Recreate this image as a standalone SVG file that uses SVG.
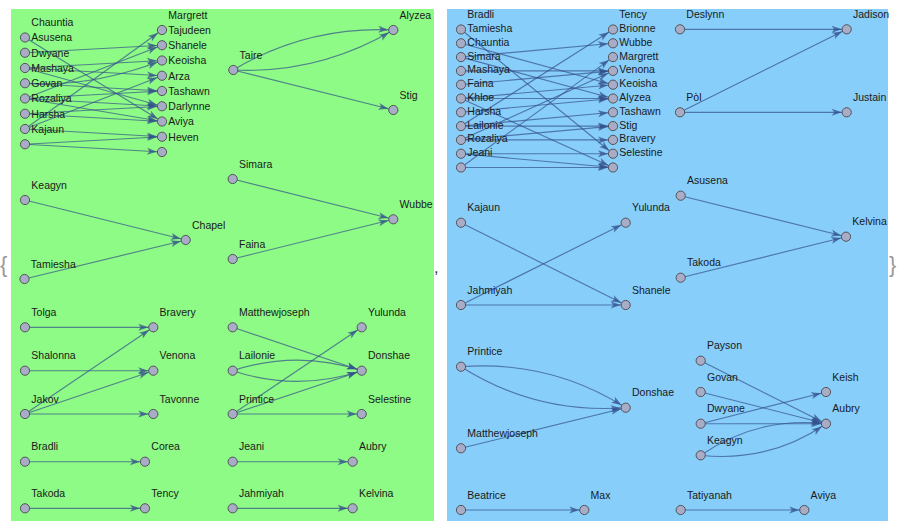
<svg xmlns="http://www.w3.org/2000/svg" width="900" height="531" viewBox="0 0 900 531">
<style>
.bg{stroke:none}
.e{fill:none;stroke:#34508C;stroke-opacity:0.7;stroke-width:1.15;marker-end:url(#ah)}
.n circle{fill:#A9ACC6;stroke:#4a4a4a;stroke-width:0.9}
.n text{font-family:"Liberation Sans",Arial,sans-serif;font-size:10.5px;fill:#1a1a1a}
.br{font-family:"Liberation Sans",Arial,sans-serif;font-size:22px;fill:#9a9a9a}
</style>
<defs>
<marker id="ah" markerUnits="userSpaceOnUse" markerWidth="16" markerHeight="8" refX="15" refY="3.5" orient="auto" overflow="visible">
<path d="M0,0 L10,3.5 L0,7 L2.5,3.5 Z" fill="#34508C" fill-opacity="0.75"/>
</marker>
</defs>
<rect class="bg" x="0" y="0" width="900" height="531" fill="#ffffff"/>
<rect class="bg" x="11" y="9" width="423" height="512" fill="#8DFB85"/>
<rect class="bg" x="447" y="9" width="441" height="512" fill="#87CEFA"/>
<text class="br" x="0" y="272">{</text>
<text class="br" x="889" y="272">}</text>
<text x="434" y="273" style="font-family:'Liberation Sans',Arial,sans-serif;font-size:16px;fill:#333">,</text>

<g id="connectors">
<!-- green top-left cluster -->
<path class="e" d="M25,37.5 L162,121.5"/>
<path class="e" d="M25,52.75 L162,45.25"/>
<path class="e" d="M25,68 L162,60.5"/>
<path class="e" d="M25,68 L162,75.75"/>
<path class="e" d="M25,68 L162,106.25"/>
<path class="e" d="M25,83.25 Q90,88 162,60.5"/>
<path class="e" d="M25,83.25 L162,91"/>
<path class="e" d="M25,98.5 L162,45.25"/>
<path class="e" d="M25,98.5 L162,91"/>
<path class="e" d="M25,98.5 L162,106.25"/>
<path class="e" d="M25,98.5 L162,121.5"/>
<path class="e" d="M25,113.75 L162,106.25"/>
<path class="e" d="M25,113.75 L162,121.5"/>
<path class="e" d="M25,129 L162,30"/>
<path class="e" d="M25,129 L162,75.75"/>
<path class="e" d="M25,129 L162,136.75"/>
<path class="e" d="M25,144.25 L162,136.75"/>
<path class="e" d="M25,144.25 L162,152"/>
<!-- Taire -->
<path class="e" d="M233.3,70 Q307,26 393.3,30"/>
<path class="e" d="M233.3,70 Q319,74 393.3,30"/>
<path class="e" d="M233.3,70 L393.3,110"/>
<!-- Chapel, Wubbe -->
<path class="e" d="M25,200 L185.7,240"/>
<path class="e" d="M24.5,279 L185.7,240"/>
<path class="e" d="M232.7,179 L393.3,219.3"/>
<path class="e" d="M232.7,259 L393.3,219.3"/>
<!-- Tolga group -->
<path class="e" d="M25,327.3 L153.3,327.3"/>
<path class="e" d="M25,370.7 L153.3,370.7"/>
<path class="e" d="M25,414 L153.3,327.3"/>
<path class="e" d="M25,414 L153.3,370.7"/>
<path class="e" d="M25,414 L153.3,414"/>
<!-- Matthewjoseph group -->
<path class="e" d="M232.7,327.3 L361.7,370.7"/>
<path class="e" d="M232.7,370.7 Q297,349.5 361.7,370.7"/>
<path class="e" d="M232.7,370.7 Q297,392 361.7,370.7"/>
<path class="e" d="M232.7,414 L361.7,327.3"/>
<path class="e" d="M232.7,414 L361.7,370.7"/>
<path class="e" d="M232.7,414 L361.7,414"/>
<!-- green bottom -->
<path class="e" d="M25,461.7 L145,461.7"/>
<path class="e" d="M25,508.3 L145,508.3"/>
<path class="e" d="M232.7,461.7 L352.7,461.7"/>
<path class="e" d="M232.7,508.3 L352.7,508.3"/>
<!-- blue top-left cluster -->
<path class="e" d="M461,126.1 L613,29.5"/>
<path class="e" d="M461,57.1 L613,43.3"/>
<path class="e" d="M461,167.5 L613,57.1"/>
<path class="e" d="M461,70.9 L613,70.9"/>
<path class="e" d="M461,84.7 L613,70.9"/>
<path class="e" d="M461,139.9 L613,70.9"/>
<path class="e" d="M461,43.3 L613,84.7"/>
<path class="e" d="M461,98.5 L613,84.7"/>
<path class="e" d="M461,57.1 L613,98.5"/>
<path class="e" d="M461,98.5 L613,98.5"/>
<path class="e" d="M461,112.3 L613,98.5"/>
<path class="e" d="M461,126.1 L613,112.3"/>
<path class="e" d="M461,126.1 L613,126.1"/>
<path class="e" d="M461,139.9 L613,126.1"/>
<path class="e" d="M461,139.9 L613,139.9"/>
<path class="e" d="M461,29.5 L613,153.7"/>
<path class="e" d="M461,153.7 L613,153.7"/>
<path class="e" d="M461,98.5 L613,167.5"/>
<path class="e" d="M461,153.7 L613,167.5"/>
<path class="e" d="M461,167.5 L613,167.5"/>
<!-- Deslynn / Pol -->
<path class="e" d="M680,29.3 L846.7,29.3"/>
<path class="e" d="M680,112.3 L846.7,29.3"/>
<path class="e" d="M680,112.3 L846.7,112.3"/>
<!-- Kajaun / Jahmiyah -->
<path class="e" d="M461,222.7 L625.7,305"/>
<path class="e" d="M461,305 L625.7,222.7"/>
<path class="e" d="M461,305 L625.7,305"/>
<!-- Kelvina -->
<path class="e" d="M680.7,195.7 L846,236.7"/>
<path class="e" d="M680.7,277.7 L846,236.7"/>
<!-- Donshae -->
<path class="e" d="M461,366.7 Q550,360 625.7,407.7"/>
<path class="e" d="M461,366.7 Q536.5,414.4 625.7,407.7"/>
<path class="e" d="M461,448.3 L625.7,407.7"/>
<!-- Aubry group -->
<path class="e" d="M700.7,360.7 L826,423.7"/>
<path class="e" d="M700.7,392 L826,423.7"/>
<path class="e" d="M700.7,423.7 L826,392"/>
<path class="e" d="M700.7,423.7 L826,423.7"/>
<path class="e" d="M700.7,455.3 Q757.5,416.2 826,423.7"/>
<path class="e" d="M700.7,455.3 Q769.2,462.8 826,423.7"/>
<!-- blue bottom -->
<path class="e" d="M461,510 L584.3,510"/>
<path class="e" d="M680.7,510 L804.3,510"/>
</g>

<!-- green nodes -->
<g id="g-Chauntia" class="n" transform="translate(25,37.5)"><circle r="4.6"/><text x="6.3" y="-11.3">Chauntia</text></g>
<g id="g-Asusena" class="n" transform="translate(25,52.75)"><circle r="4.6"/><text x="6.3" y="-11.3">Asusena</text></g>
<g id="g-Dwyane" class="n" transform="translate(25,68)"><circle r="4.6"/><text x="6.3" y="-11.3">Dwyane</text></g>
<g id="g-Mashaya" class="n" transform="translate(25,83.25)"><circle r="4.6"/><text x="6.3" y="-11.3">Mashaya</text></g>
<g id="g-Govan" class="n" transform="translate(25,98.5)"><circle r="4.6"/><text x="6.3" y="-11.3">Govan</text></g>
<g id="g-Rozaliya" class="n" transform="translate(25,113.75)"><circle r="4.6"/><text x="6.3" y="-11.3">Rozaliya</text></g>
<g id="g-Harsha" class="n" transform="translate(25,129)"><circle r="4.6"/><text x="6.3" y="-11.3">Harsha</text></g>
<g id="g-Kajaun" class="n" transform="translate(25,144.25)"><circle r="4.6"/><text x="6.3" y="-11.3">Kajaun</text></g>
<g id="g-Margrett" class="n" transform="translate(162,30)"><circle r="4.6"/><text x="6.3" y="-11.3">Margrett</text></g>
<g id="g-Tajudeen" class="n" transform="translate(162,45.25)"><circle r="4.6"/><text x="6.3" y="-11.3">Tajudeen</text></g>
<g id="g-Shanele" class="n" transform="translate(162,60.5)"><circle r="4.6"/><text x="6.3" y="-11.3">Shanele</text></g>
<g id="g-Keoisha" class="n" transform="translate(162,75.75)"><circle r="4.6"/><text x="6.3" y="-11.3">Keoisha</text></g>
<g id="g-Arza" class="n" transform="translate(162,91)"><circle r="4.6"/><text x="6.3" y="-11.3">Arza</text></g>
<g id="g-Tashawn" class="n" transform="translate(162,106.25)"><circle r="4.6"/><text x="6.3" y="-11.3">Tashawn</text></g>
<g id="g-Darlynne" class="n" transform="translate(162,121.5)"><circle r="4.6"/><text x="6.3" y="-11.3">Darlynne</text></g>
<g id="g-Aviya" class="n" transform="translate(162,136.75)"><circle r="4.6"/><text x="6.3" y="-11.3">Aviya</text></g>
<g id="g-Heven" class="n" transform="translate(162,152)"><circle r="4.6"/><text x="6.3" y="-11.3">Heven</text></g>
<g id="g-Taire" class="n" transform="translate(233.3,70)"><circle r="4.6"/><text x="6.3" y="-11.3">Taire</text></g>
<g id="g-Alyzea" class="n" transform="translate(393.3,30)"><circle r="4.6"/><text x="6.3" y="-11.3">Alyzea</text></g>
<g id="g-Stig" class="n" transform="translate(393.3,110)"><circle r="4.6"/><text x="6.3" y="-11.3">Stig</text></g>
<g id="g-Keagyn" class="n" transform="translate(25,200)"><circle r="4.6"/><text x="6.3" y="-11.3">Keagyn</text></g>
<g id="g-Tamiesha" class="n" transform="translate(24.5,279)"><circle r="4.6"/><text x="6.3" y="-11.3">Tamiesha</text></g>
<g id="g-Chapel" class="n" transform="translate(185.7,240)"><circle r="4.6"/><text x="6.3" y="-11.3">Chapel</text></g>
<g id="g-Simara" class="n" transform="translate(232.7,179)"><circle r="4.6"/><text x="6.3" y="-11.3">Simara</text></g>
<g id="g-Faina" class="n" transform="translate(232.7,259)"><circle r="4.6"/><text x="6.3" y="-11.3">Faina</text></g>
<g id="g-Wubbe" class="n" transform="translate(393.3,219.3)"><circle r="4.6"/><text x="6.3" y="-11.3">Wubbe</text></g>
<g id="g-Tolga" class="n" transform="translate(25,327.3)"><circle r="4.6"/><text x="6.3" y="-11.3">Tolga</text></g>
<g id="g-Shalonna" class="n" transform="translate(25,370.7)"><circle r="4.6"/><text x="6.3" y="-11.3">Shalonna</text></g>
<g id="g-Jakov" class="n" transform="translate(25,414)"><circle r="4.6"/><text x="6.3" y="-11.3">Jakov</text></g>
<g id="g-Bravery" class="n" transform="translate(153.3,327.3)"><circle r="4.6"/><text x="6.3" y="-11.3">Bravery</text></g>
<g id="g-Venona" class="n" transform="translate(153.3,370.7)"><circle r="4.6"/><text x="6.3" y="-11.3">Venona</text></g>
<g id="g-Tavonne" class="n" transform="translate(153.3,414)"><circle r="4.6"/><text x="6.3" y="-11.3">Tavonne</text></g>
<g id="g-Matthewjoseph" class="n" transform="translate(232.7,327.3)"><circle r="4.6"/><text x="6.3" y="-11.3">Matthewjoseph</text></g>
<g id="g-Lailonie" class="n" transform="translate(232.7,370.7)"><circle r="4.6"/><text x="6.3" y="-11.3">Lailonie</text></g>
<g id="g-Printice" class="n" transform="translate(232.7,414)"><circle r="4.6"/><text x="6.3" y="-11.3">Printice</text></g>
<g id="g-Yulunda" class="n" transform="translate(361.7,327.3)"><circle r="4.6"/><text x="6.3" y="-11.3">Yulunda</text></g>
<g id="g-Donshae" class="n" transform="translate(361.7,370.7)"><circle r="4.6"/><text x="6.3" y="-11.3">Donshae</text></g>
<g id="g-Selestine" class="n" transform="translate(361.7,414)"><circle r="4.6"/><text x="6.3" y="-11.3">Selestine</text></g>
<g id="g-Bradli" class="n" transform="translate(25,461.7)"><circle r="4.6"/><text x="6.3" y="-11.3">Bradli</text></g>
<g id="g-Corea" class="n" transform="translate(145,461.7)"><circle r="4.6"/><text x="6.3" y="-11.3">Corea</text></g>
<g id="g-Takoda" class="n" transform="translate(25,508.3)"><circle r="4.6"/><text x="6.3" y="-11.3">Takoda</text></g>
<g id="g-Tency" class="n" transform="translate(145,508.3)"><circle r="4.6"/><text x="6.3" y="-11.3">Tency</text></g>
<g id="g-Jeani" class="n" transform="translate(232.7,461.7)"><circle r="4.6"/><text x="6.3" y="-11.3">Jeani</text></g>
<g id="g-Aubry" class="n" transform="translate(352.7,461.7)"><circle r="4.6"/><text x="6.3" y="-11.3">Aubry</text></g>
<g id="g-Jahmiyah" class="n" transform="translate(232.7,508.3)"><circle r="4.6"/><text x="6.3" y="-11.3">Jahmiyah</text></g>
<g id="g-Kelvina" class="n" transform="translate(352.7,508.3)"><circle r="4.6"/><text x="6.3" y="-11.3">Kelvina</text></g>

<!-- blue nodes -->
<g id="b-Bradli" class="n" transform="translate(461,29.5)"><circle r="4.6"/><text x="6.3" y="-11.3">Bradli</text></g>
<g id="b-Tamiesha" class="n" transform="translate(461,43.3)"><circle r="4.6"/><text x="6.3" y="-11.3">Tamiesha</text></g>
<g id="b-Chauntia" class="n" transform="translate(461,57.1)"><circle r="4.6"/><text x="6.3" y="-11.3">Chauntia</text></g>
<g id="b-Simara" class="n" transform="translate(461,70.9)"><circle r="4.6"/><text x="6.3" y="-11.3">Simara</text></g>
<g id="b-Mashaya" class="n" transform="translate(461,84.7)"><circle r="4.6"/><text x="6.3" y="-11.3">Mashaya</text></g>
<g id="b-Faina" class="n" transform="translate(461,98.5)"><circle r="4.6"/><text x="6.3" y="-11.3">Faina</text></g>
<g id="b-Khloe" class="n" transform="translate(461,112.3)"><circle r="4.6"/><text x="6.3" y="-11.3">Khloe</text></g>
<g id="b-Harsha" class="n" transform="translate(461,126.1)"><circle r="4.6"/><text x="6.3" y="-11.3">Harsha</text></g>
<g id="b-Lailonie" class="n" transform="translate(461,139.9)"><circle r="4.6"/><text x="6.3" y="-11.3">Lailonie</text></g>
<g id="b-Rozaliya" class="n" transform="translate(461,153.7)"><circle r="4.6"/><text x="6.3" y="-11.3">Rozaliya</text></g>
<g id="b-Jeani" class="n" transform="translate(461,167.5)"><circle r="4.6"/><text x="6.3" y="-11.3">Jeani</text></g>
<g id="b-Tency" class="n" transform="translate(613,29.5)"><circle r="4.6"/><text x="6.3" y="-11.3">Tency</text></g>
<g id="b-Brionne" class="n" transform="translate(613,43.3)"><circle r="4.6"/><text x="6.3" y="-11.3">Brionne</text></g>
<g id="b-Wubbe" class="n" transform="translate(613,57.1)"><circle r="4.6"/><text x="6.3" y="-11.3">Wubbe</text></g>
<g id="b-Margrett" class="n" transform="translate(613,70.9)"><circle r="4.6"/><text x="6.3" y="-11.3">Margrett</text></g>
<g id="b-Venona" class="n" transform="translate(613,84.7)"><circle r="4.6"/><text x="6.3" y="-11.3">Venona</text></g>
<g id="b-Keoisha" class="n" transform="translate(613,98.5)"><circle r="4.6"/><text x="6.3" y="-11.3">Keoisha</text></g>
<g id="b-Alyzea" class="n" transform="translate(613,112.3)"><circle r="4.6"/><text x="6.3" y="-11.3">Alyzea</text></g>
<g id="b-Tashawn" class="n" transform="translate(613,126.1)"><circle r="4.6"/><text x="6.3" y="-11.3">Tashawn</text></g>
<g id="b-Stig" class="n" transform="translate(613,139.9)"><circle r="4.6"/><text x="6.3" y="-11.3">Stig</text></g>
<g id="b-Bravery" class="n" transform="translate(613,153.7)"><circle r="4.6"/><text x="6.3" y="-11.3">Bravery</text></g>
<g id="b-Selestine" class="n" transform="translate(613,167.5)"><circle r="4.6"/><text x="6.3" y="-11.3">Selestine</text></g>
<g id="b-Deslynn" class="n" transform="translate(680,29.3)"><circle r="4.6"/><text x="6.3" y="-11.3">Deslynn</text></g>
<g id="b-Jadison" class="n" transform="translate(846.7,29.3)"><circle r="4.6"/><text x="6.3" y="-11.3">Jadison</text></g>
<g id="b-Pol" class="n" transform="translate(680,112.3)"><circle r="4.6"/><text x="6.3" y="-11.3">Pòl</text></g>
<g id="b-Justain" class="n" transform="translate(846.7,112.3)"><circle r="4.6"/><text x="6.3" y="-11.3">Justain</text></g>
<g id="b-Kajaun" class="n" transform="translate(461,222.7)"><circle r="4.6"/><text x="6.3" y="-11.3">Kajaun</text></g>
<g id="b-Yulunda" class="n" transform="translate(625.7,222.7)"><circle r="4.6"/><text x="6.3" y="-11.3">Yulunda</text></g>
<g id="b-Jahmiyah" class="n" transform="translate(461,305)"><circle r="4.6"/><text x="6.3" y="-11.3">Jahmiyah</text></g>
<g id="b-Shanele" class="n" transform="translate(625.7,305)"><circle r="4.6"/><text x="6.3" y="-11.3">Shanele</text></g>
<g id="b-Asusena" class="n" transform="translate(680.7,195.7)"><circle r="4.6"/><text x="6.3" y="-11.3">Asusena</text></g>
<g id="b-Takoda" class="n" transform="translate(680.7,277.7)"><circle r="4.6"/><text x="6.3" y="-11.3">Takoda</text></g>
<g id="b-Kelvina" class="n" transform="translate(846,236.7)"><circle r="4.6"/><text x="6.3" y="-11.3">Kelvina</text></g>
<g id="b-Printice" class="n" transform="translate(461,366.7)"><circle r="4.6"/><text x="6.3" y="-11.3">Printice</text></g>
<g id="b-Matthewjoseph" class="n" transform="translate(461,448.3)"><circle r="4.6"/><text x="6.3" y="-11.3">Matthewjoseph</text></g>
<g id="b-Donshae" class="n" transform="translate(625.7,407.7)"><circle r="4.6"/><text x="6.3" y="-11.3">Donshae</text></g>
<g id="b-Payson" class="n" transform="translate(700.7,360.7)"><circle r="4.6"/><text x="6.3" y="-11.3">Payson</text></g>
<g id="b-Govan" class="n" transform="translate(700.7,392)"><circle r="4.6"/><text x="6.3" y="-11.3">Govan</text></g>
<g id="b-Dwyane" class="n" transform="translate(700.7,423.7)"><circle r="4.6"/><text x="6.3" y="-11.3">Dwyane</text></g>
<g id="b-Keagyn" class="n" transform="translate(700.7,455.3)"><circle r="4.6"/><text x="6.3" y="-11.3">Keagyn</text></g>
<g id="b-Keish" class="n" transform="translate(826,392)"><circle r="4.6"/><text x="6.3" y="-11.3">Keish</text></g>
<g id="b-Aubry" class="n" transform="translate(826,423.7)"><circle r="4.6"/><text x="6.3" y="-11.3">Aubry</text></g>
<g id="b-Beatrice" class="n" transform="translate(461,510)"><circle r="4.6"/><text x="6.3" y="-11.3">Beatrice</text></g>
<g id="b-Max" class="n" transform="translate(584.3,510)"><circle r="4.6"/><text x="6.3" y="-11.3">Max</text></g>
<g id="b-Tatiyanah" class="n" transform="translate(680.7,510)"><circle r="4.6"/><text x="6.3" y="-11.3">Tatiyanah</text></g>
<g id="b-Aviya" class="n" transform="translate(804.3,510)"><circle r="4.6"/><text x="6.3" y="-11.3">Aviya</text></g>
</svg>
